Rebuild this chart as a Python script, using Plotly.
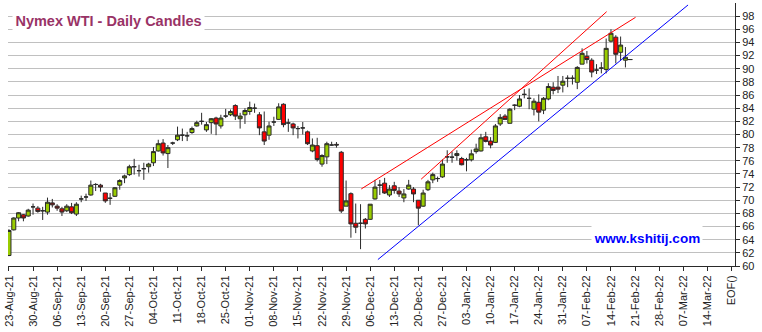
import numpy as np
import pandas as pd
import plotly.graph_objects as go

# ---- Daily OHLC, Nymex WTI front month (one entry per weekday from 23-Aug-21) ----
open_ = [61.6, 65.5, 67.3, 67.8, 67.6, 69.0, 68.8, 68.4, 68.2, 69.6,
         69.1, 68.7, 68.4, 69.0, 67.9, 70.2, 70.5, 70.8, 72.4, 72.3,
         71.1, 70.3, 70.6, 72.3, 73.4, 73.9, 75.1, 74.5, 74.8, 75.1,
         75.7, 77.5, 78.7, 77.1, 78.7, 79.2, 79.9, 79.8, 80.3, 81.3,
         82.0, 80.7, 81.8, 82.5, 81.3, 82.8, 83.0, 84.4, 82.4, 83.0,
         83.5, 84.0, 83.0, 80.4, 79.9, 81.9, 82.3, 84.6, 81.75, 81.6,
         80.9, 81.0, 80.4, 77.5, 78.3, 75.5, 76.6, 78.4, 78.5, 77.3,
         69.1, 71.0, 66.5, 66.5, 67.1, 67.1, 70.2, 72.3, 72.6, 70.8,
         72.2, 71.4, 70.35, 71.7, 71.7, 70.0, 69.1, 71.6, 73.1, 73.3,
         73.55, 76.6, 76.55, 76.8, 76.35, 76.15, 76.15, 77.4, 77.5, 79.65,
         79.0, 78.8, 81.6, 82.8, 81.7, 84.45, 84.3, 86.1, 85.5, 83.85,
         84.9, 83.7, 85.4, 87.2, 87.2, 87.5, 88.55, 88.55, 87.95, 90.7,
         91.9, 91.3, 89.8, 90.1, 89.9, 94.2, 94.8, 92.5, 91.3, 91.4]
high = [65.6, 67.4, 68.2, 67.9, 68.7, 69.5, 69.1, 69.0, 70.4, 70.2,
        69.4, 69.0, 69.4, 69.6, 69.7, 70.7, 71.0, 73.0, 72.6, 72.5,
        71.1, 71.1, 72.0, 73.2, 73.9, 75.4, 76.3, 75.4, 75.7, 75.7,
        78.1, 79.2, 79.3, 78.4, 78.9, 81.2, 80.9, 80.4, 81.2, 82.1,
        83.3, 81.9, 82.5, 82.7, 83.0, 83.9, 83.8, 84.6, 83.3, 84.0,
        85.0, 84.7, 83.4, 83.5, 81.95, 82.7, 84.75, 84.75, 82.4, 81.8,
        81.3, 81.9, 80.6, 79.4, 79.5, 77.0, 78.9, 78.9, 78.85, 77.5,
        73.0, 71.2, 69.5, 69.4, 67.3, 69.4, 73.1, 73.1, 73.4, 72.3,
        72.8, 72.0, 71.7, 73.1, 72.0, 70.0, 71.6, 73.1, 74.2, 73.6,
        76.2, 77.6, 77.4, 77.6, 76.6, 76.45, 77.7, 78.6, 80.1, 80.4,
        79.6, 81.6, 83.1, 83.1, 84.0, 84.6, 86.0, 86.9, 87.0, 85.5,
        86.1, 85.7, 87.8, 87.95, 88.9, 88.9, 89.0, 89.0, 90.4, 93.1,
        92.7, 91.6, 90.7, 91.0, 94.6, 96.0, 95.1, 94.9, 93.3, 91.4]
low = [61.5, 65.4, 66.8, 66.8, 67.5, 67.8, 68.1, 67.0, 67.8, 68.9,
       68.4, 67.6, 68.2, 67.9, 67.6, 69.7, 69.9, 70.7, 71.4, 71.3,
       69.6, 69.3, 70.5, 71.6, 72.6, 73.7, 73.9, 73.6, 73.1, 74.2,
       75.2, 77.4, 76.8, 74.9, 78.4, 79.0, 79.0, 79.0, 80.1, 81.2,
       81.5, 80.4, 80.1, 79.9, 80.9, 82.5, 82.8, 82.2, 80.9, 81.6,
       83.0, 83.3, 79.9, 78.4, 79.2, 81.3, 82.2, 81.1, 80.4, 79.9,
       79.4, 80.0, 78.4, 77.3, 75.9, 75.1, 75.5, 78.3, 78.0, 68.06,
       69.1, 64.3, 65.0, 62.56, 65.7, 67.0, 70.1, 70.8, 70.96, 70.5,
       71.0, 70.5, 69.7, 71.6, 69.7, 66.2, 69.0, 71.4, 72.6, 72.8,
       73.4, 75.7, 75.7, 76.05, 75.3, 74.4, 75.9, 77.1, 77.4, 78.8,
       77.9, 78.7, 81.3, 82.2, 81.7, 83.7, 84.15, 85.5, 83.85, 82.9,
       82.0, 83.1, 85.2, 86.1, 86.3, 86.4, 87.2, 87.6, 86.9, 90.7,
       90.8, 88.7, 89.2, 89.3, 89.3, 94.0, 90.8, 91.3, 90.2, 91.4]
close = [65.4, 67.3, 68.1, 67.3, 68.5, 69.0, 68.3, 68.4, 69.7, 69.3,
         68.8, 68.2, 69.1, 68.1, 69.4, 70.2, 70.5, 72.3, 72.4, 72.0,
         69.9, 70.3, 71.9, 73.0, 73.7, 75.1, 75.1, 74.5, 74.8, 75.5,
         77.4, 78.6, 77.2, 78.0, 78.7, 79.9, 79.9, 79.8, 80.9, 81.8,
         82.0, 81.5, 82.4, 81.6, 82.5, 82.8, 83.5, 82.8, 82.8, 83.65,
         84.1, 84.0, 81.0, 79.0, 81.3, 81.9, 84.2, 81.5, 81.75, 81.0,
         80.9, 81.0, 78.6, 78.4, 76.2, 76.8, 78.6, 78.4, 78.4, 68.36,
         69.9, 66.4, 65.9, 66.5, 66.4, 69.4, 72.0, 72.3, 71.1, 71.7,
         71.5, 70.96, 70.96, 72.3, 70.96, 68.8, 71.1, 72.8, 73.9, 73.3,
         75.5, 76.6, 76.55, 77.1, 75.4, 76.15, 77.06, 77.8, 79.5, 78.95,
         78.4, 81.3, 82.6, 82.3, 83.85, 84.45, 85.4, 86.1, 85.5, 85.06,
         83.4, 85.5, 87.3, 86.7, 86.9, 88.1, 88.55, 88.55, 90.2, 92.35,
         91.4, 89.5, 89.8, 90.1, 93.1, 95.4, 92.2, 93.6, 91.75, 91.4]

# ---- Weekly axis labels (Mondays) ----
week_labels = ["23-Aug-21", "30-Aug-21", "06-Sep-21", "13-Sep-21", "20-Sep-21",
               "27-Sep-21", "04-Oct-21", "11-Oct-21", "18-Oct-21", "25-Oct-21",
               "01-Nov-21", "08-Nov-21", "15-Nov-21", "22-Nov-21", "29-Nov-21",
               "06-Dec-21", "13-Dec-21", "20-Dec-21", "27-Dec-21", "03-Jan-22",
               "10-Jan-22", "17-Jan-22", "24-Jan-22", "31-Jan-22", "07-Feb-22",
               "14-Feb-22", "21-Feb-22", "28-Feb-22", "07-Mar-22", "14-Mar-22",
               "EOF()"]
price_ticks = list(range(60, 100, 2))

# ---- Trend lines (bar index, price) ----
support_x, support_y = [76.6, 141.0], [60.98, 99.7]
channel_x, channel_y = [73.15, 130.1], [71.72, 97.82]
steep_x, steep_y = [85.58, 124.1], [73.2, 98.68]

n = len(close)
trade_dates = pd.bdate_range("2021-08-23", periods=n)
x_pos = np.arange(n)            # one slot per weekday
week_pos = np.arange(len(week_labels)) * 5

FONT = "Liberation Sans, Arial, sans-serif"
EDGE = "#2a2a2a"

fig = go.Figure()
fig.add_trace(go.Candlestick(
    x=x_pos, open=open_, high=high, low=low, close=close,
    text=[d.strftime("%d-%b-%y") for d in trade_dates],
    increasing=dict(line=dict(color=EDGE, width=1), fillcolor="#99cc00"),
    decreasing=dict(line=dict(color=EDGE, width=1), fillcolor="#ff0000"),
    whiskerwidth=0, showlegend=False,
))
fig.add_trace(go.Scatter(x=channel_x, y=channel_y, mode="lines",
                         line=dict(color="#ff0000", width=1), showlegend=False, hoverinfo="skip"))
fig.add_trace(go.Scatter(x=steep_x, y=steep_y, mode="lines",
                         line=dict(color="#ff0000", width=1), showlegend=False, hoverinfo="skip"))
fig.add_trace(go.Scatter(x=support_x, y=support_y, mode="lines",
                         line=dict(color="#0000ff", width=1), showlegend=False, hoverinfo="skip"))

fig.update_layout(
    width=762, height=332,
    margin=dict(l=6, r=27, t=3, b=66),
    paper_bgcolor="white", plot_bgcolor="white",
    font=dict(family=FONT, size=11, color="#222222"),
    boxgap=0.12, boxgroupgap=0.05,
    xaxis=dict(
        range=[-0.2, 150.75], rangeslider=dict(visible=False),
        tickmode="array", tickvals=week_pos, ticktext=week_labels,
        tickangle=-90, ticks="outside", ticklen=4, tickcolor=EDGE,
        showline=True, linecolor=EDGE, linewidth=1,
        showgrid=False, zeroline=False,
        tickfont=dict(family=FONT, size=11, color="#222222"),
    ),
    yaxis=dict(
        side="right", range=[60, 100],
        tickmode="array", tickvals=price_ticks,
        ticks="outside", ticklen=4, tickcolor=EDGE,
        showline=True, linecolor=EDGE, linewidth=1,
        showgrid=True, gridcolor="#c0c0c0", gridwidth=1, zeroline=False,
        tickfont=dict(family=FONT, size=11, color="#222222"),
    ),
    annotations=[
        dict(text="Nymex WTI - Daily Candles", xref="paper", yref="paper",
             x=0.1379, y=0.931, xanchor="center", yanchor="middle",
             width=191, height=24, borderpad=0, bgcolor="white", showarrow=False,
             font=dict(family=FONT, size=14.5, color="#993366", weight="bold")),
        dict(text="www.kshitij.com", xref="paper", yref="paper",
             x=0.8793, y=0.1064, xanchor="center", yanchor="middle",
             width=110, height=26, borderpad=0, bgcolor="white", showarrow=False,
             font=dict(family=FONT, size=13.5, color="#0000ff", weight="bold")),
    ],
)

fig.write_html("out.html")
